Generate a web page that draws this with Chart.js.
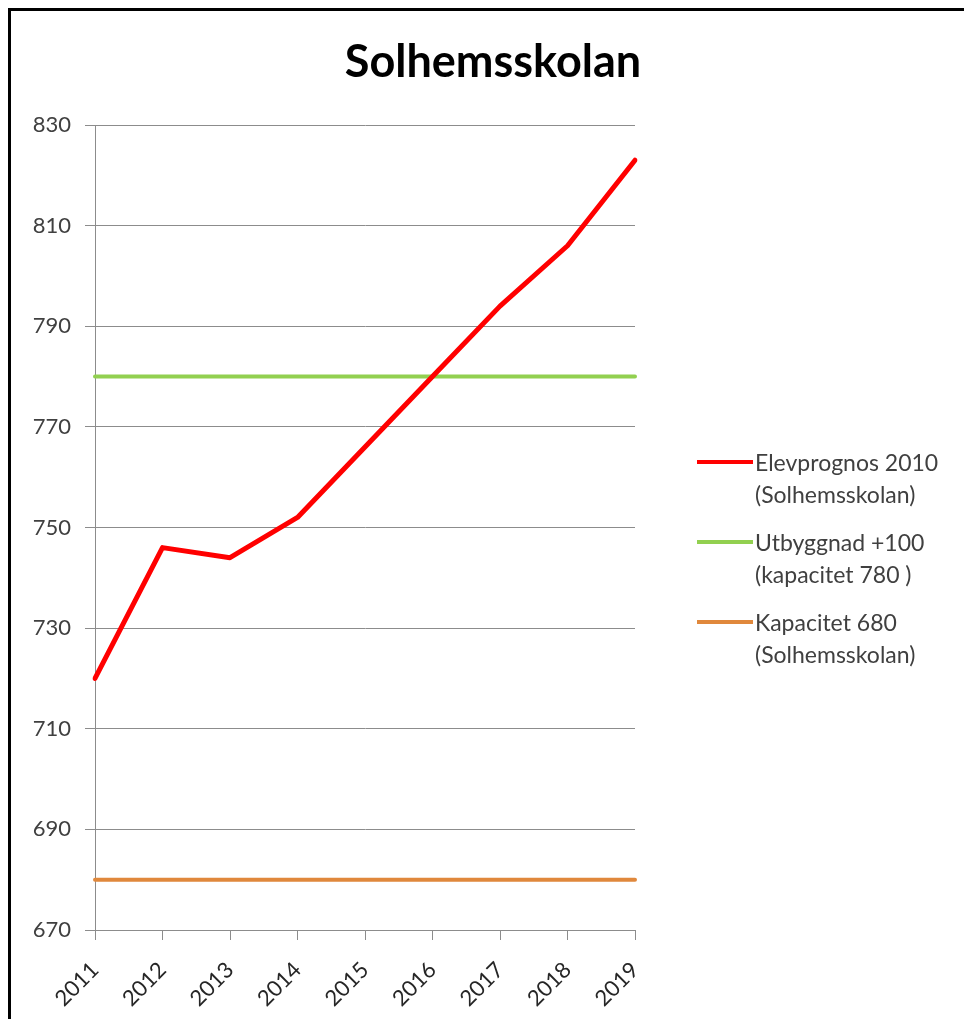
<!DOCTYPE html>
<html>
<head>
<meta charset="utf-8">
<script src="https://cdn.jsdelivr.net/npm/chart.js@4"></script>
<style>
  body { margin: 0; overflow: hidden; background: #fff; }
  #frame { position: absolute; left: 8px; top: 8px; width: 1000px; height: 1050px;
           border-left: 3px solid #000; border-top: 3px solid #000; }
  #box { position: absolute; left: 0; top: 0; width: 964px; height: 1008px; }
  #legend { position: absolute; left: 686px; top: 435px; font-family: Lato, sans-serif;
            font-size: 23px; line-height: 32px; color: #404040; }
  .item { display: flex; align-items: flex-start; height: 64px; margin-bottom: 16px; }
  .swatch { width: 56px; height: 4px; margin-top: 14px; margin-right: 2px; }
</style>
</head>
<body>
<div id="frame">
  <div id="box"><canvas id="myChart" width="964" height="1008"></canvas></div>
  <div id="legend"></div>
</div>
<script>
let years = ["2011", "2012", "2013", "2014", "2015", "2016", "2017", "2018", "2019"];
let elevprognos = [720, 746, 744, 752, 766, 780, 794, 806, 823];
let utbyggnad = [780, 780, 780, 780, 780, 780, 780, 780, 780];
let kapacitet = [680, 680, 680, 680, 680, 680, 680, 680, 680];
let seriesNames = [
  ["Elevprognos 2010", "(Solhemsskolan)"],
  ["Utbyggnad +100", "(kapacitet 780 )"],
  ["Kapacitet 680", "(Solhemsskolan)"]
];
let seriesColors = ["#ff0000", "#92d050", "#e0883c"];

let tickFont = { family: "Lato", size: 22 };
let gridColor = "#8c8c8c";

var ctx = document.getElementById("myChart").getContext("2d");
var chart = new Chart(ctx, {
  type: "line",
  data: {
    labels: years,
    datasets: [
      { label: seriesNames[0].join(" "), data: elevprognos, borderColor: seriesColors[0],
        backgroundColor: seriesColors[0], borderWidth: 5 },
      { label: seriesNames[1].join(" "), data: utbyggnad, borderColor: seriesColors[1],
        backgroundColor: seriesColors[1], borderWidth: 4 },
      { label: seriesNames[2].join(" "), data: kapacitet, borderColor: seriesColors[2],
        backgroundColor: seriesColors[2], borderWidth: 4 },
    ],
  },
  options: {
    responsive: false,
    animation: false,
    layout: { padding: 0 },
    elements: {
      line: { tension: 0, fill: false, borderCapStyle: "round", borderJoinStyle: "round" },
      point: { radius: 0 },
    },
    plugins: {
      legend: { display: false },
      tooltip: { enabled: false },
      title: {
        display: true,
        text: "Solhemsskolan",
        color: "#000",
        font: { family: "Lato", size: 45, weight: "bold", lineHeight: 1.2 },
        padding: { top: 24, bottom: 36 },
      },
    },
    scales: {
      x: {
        ticks: { font: tickFont, color: "#262626", minRotation: 45, maxRotation: 45, padding: 17 },
        grid: { drawOnChartArea: false, color: gridColor, tickLength: 10 },
        border: { color: gridColor },
        afterFit: (scale) => { scale.height = 89; },
      },
      y: {
        min: 670,
        max: 830,
        ticks: { stepSize: 20, font: tickFont, color: "#404040", padding: 14 },
        grid: { color: gridColor, tickLength: 10 },
        border: { color: gridColor },
        afterFit: (scale) => { scale.width = 84; },
      },
      pad: {
        position: "right",
        display: true,
        grid: { display: false },
        ticks: { display: false },
        border: { display: false },
        afterFit: (scale) => { scale.width = 340; },
      },
    },
  },
});

// legend on the right, two lines per series
let legendBox = document.getElementById("legend");
chart.data.datasets.forEach((ds, i) => {
  let item = document.createElement("div");
  item.className = "item";
  let swatch = document.createElement("div");
  swatch.className = "swatch";
  swatch.style.background = ds.borderColor;
  let text = document.createElement("div");
  text.innerHTML = seriesNames[i].join("<br>");
  item.appendChild(swatch);
  item.appendChild(text);
  legendBox.appendChild(item);
});
</script>
</body>
</html>
